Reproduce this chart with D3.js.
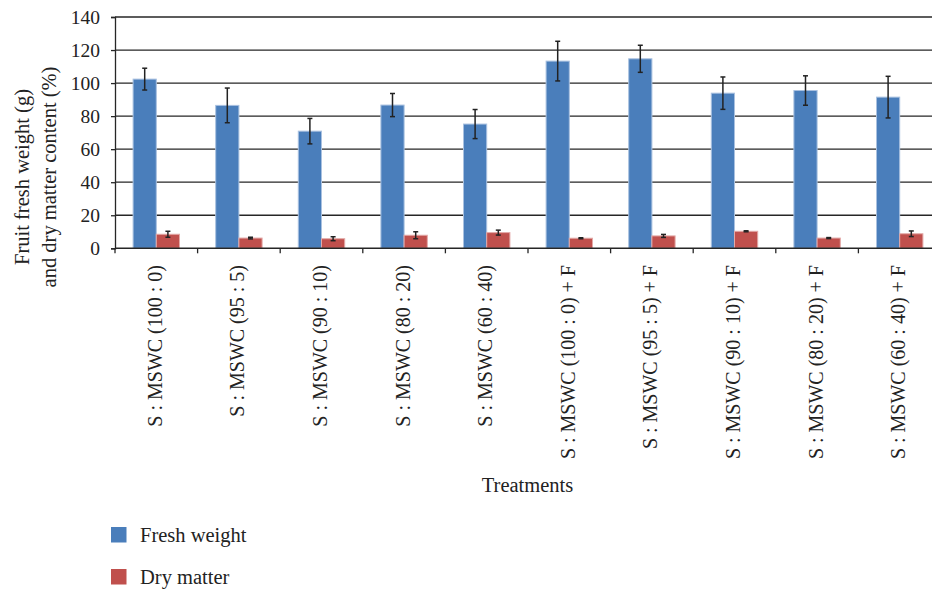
<!DOCTYPE html>
<html><head><meta charset="utf-8">
<script src="https://cdn.jsdelivr.net/npm/d3@7"></script>
<style>body{margin:0;background:#fff;} svg{display:block;} text{font-family:"Liberation Serif","DejaVu Serif",serif;fill:#222;}</style>
</head><body><svg id="c" width="932" height="590"></svg>
<script>
const categories = ["S : MSWC (100 : 0)","S : MSWC (95 : 5)","S : MSWC (90 : 10)","S : MSWC (80 : 20)","S : MSWC (60 : 40)",
  "S : MSWC (100 : 0) + F","S : MSWC (95 : 5) + F","S : MSWC (90 : 10) + F","S : MSWC (80 : 20) + F","S : MSWC (60 : 40) + F"];
const seriesNames = ["Fresh weight","Dry matter"];
const freshWeight = [102.4, 86.5, 70.9, 86.7, 75.2, 113.3, 114.7, 93.9, 95.5, 91.5];
const freshErr    = [6.6, 10.5, 7.7, 7.0, 8.8, 12.0, 8.2, 9.8, 8.9, 12.6];
const dryMatter   = [8.5, 6.2, 5.8, 7.9, 9.5, 6.1, 7.5, 10.3, 6.2, 8.8];
const dryErr      = [1.8, 0.5, 1.2, 2.1, 1.5, 0.3, 0.9, 0.3, 0.3, 1.7];
const yTicks = [0,20,40,60,80,100,120,140];
const colors = ["#4a7ebb","#c0504d"];
const strokes = ["#a9c1e0","#e3a9a7"];

const svg = d3.select("#c");
const x0 = d3.scaleBand().domain(categories).range([115, 941]).paddingInner(0).paddingOuter(0);
const y = d3.scaleLinear().domain([0,140]).range([248.3, 17]);
const x1 = d3.scaleBand().domain(seriesNames).range([0, x0.bandwidth()]).paddingOuter(0.78).paddingInner(0);

// gridlines
svg.append("g").selectAll("line").data(yTicks.filter(d=>d>0)).join("line")
  .attr("x1", 115).attr("x2", 941).attr("y1", d=>y(d)).attr("y2", d=>y(d))
  .attr("stroke", "#262626").attr("stroke-width", 1.3);

// bars
const series = [
  {name: seriesNames[0], vals: freshWeight, err: freshErr},
  {name: seriesNames[1], vals: dryMatter, err: dryErr}
];
series.forEach((s, si) => {
  const g = svg.append("g");
  g.selectAll("rect").data(categories).join("rect")
    .attr("x", (c)=>x0(c)+x1(s.name))
    .attr("y", (c,i)=>y(s.vals[i]))
    .attr("width", x1.bandwidth())
    .attr("height", (c,i)=>y(0)-y(s.vals[i]))
    .attr("fill", colors[si]).attr("stroke", strokes[si]).attr("stroke-width", 1);
});
// error bars
series.forEach((s, si) => {
  const g = svg.append("g").attr("stroke", "#222").attr("stroke-width", 1.5);
  categories.forEach((c,i) => {
    const cx = x0(c)+x1(s.name)+x1.bandwidth()/2;
    const t = y(s.vals[i]+s.err[i]), b = y(s.vals[i]-s.err[i]);
    g.append("line").attr("x1",cx).attr("x2",cx).attr("y1",t).attr("y2",b);
    g.append("line").attr("x1",cx-2.5).attr("x2",cx+2.5).attr("y1",t).attr("y2",t);
    g.append("line").attr("x1",cx-2.5).attr("x2",cx+2.5).attr("y1",b).attr("y2",b);
  });
});

// y axis
const yAxis = d3.axisLeft(y).tickValues(yTicks).tickSize(4).tickPadding(11);
const gy = svg.append("g").attr("transform","translate(115,0)").call(yAxis);
gy.select(".domain").attr("stroke","#262626").attr("stroke-width",1.3);
gy.selectAll(".tick line").attr("stroke","#262626").attr("stroke-width",1.3);
gy.selectAll(".tick text").attr("font-size",19.5).attr("font-family","Liberation Serif").attr("fill","#222");

// x axis
const boundaries = d3.range(0, categories.length+1).map(i => 115 + i*x0.step());
svg.append("line").attr("x1",115).attr("x2",941).attr("y1",y(0)).attr("y2",y(0)).attr("stroke","#262626").attr("stroke-width",1.5);
svg.append("g").selectAll("line").data(boundaries).join("line")
  .attr("x1",d=>d).attr("x2",d=>d).attr("y1",y(0)).attr("y2",y(0)+5)
  .attr("stroke","#262626").attr("stroke-width",1.3);
svg.append("g").selectAll("text").data(categories).join("text")
  .attr("transform", c => `translate(${x0(c)+x0.bandwidth()/2+5.5},265) rotate(-90)`)
  .attr("text-anchor","end").attr("font-size",20).text(c=>c);

// axis titles
const yt = svg.append("text").attr("transform","translate(0,177) rotate(-90)").attr("text-anchor","middle").attr("font-size",20.5);
yt.append("tspan").attr("x",0).attr("y",29).text("Fruit fresh weight (g)");
yt.append("tspan").attr("x",0).attr("y",56).text("and dry matter content (%)");
svg.append("text").attr("x",527.5).attr("y",492).attr("text-anchor","middle").attr("font-size",20.5).text("Treatments");

// legend
const lg = svg.append("g");
series.forEach((s,si)=>{
  const yy = 527 + si*42;
  lg.append("rect").attr("x",111).attr("y",yy).attr("width",15.5).attr("height",15.5).attr("fill",colors[si]);
  lg.append("text").attr("x",140).attr("y",yy+14.7).attr("font-size",20.5).text(s.name);
});
</script></body></html>
